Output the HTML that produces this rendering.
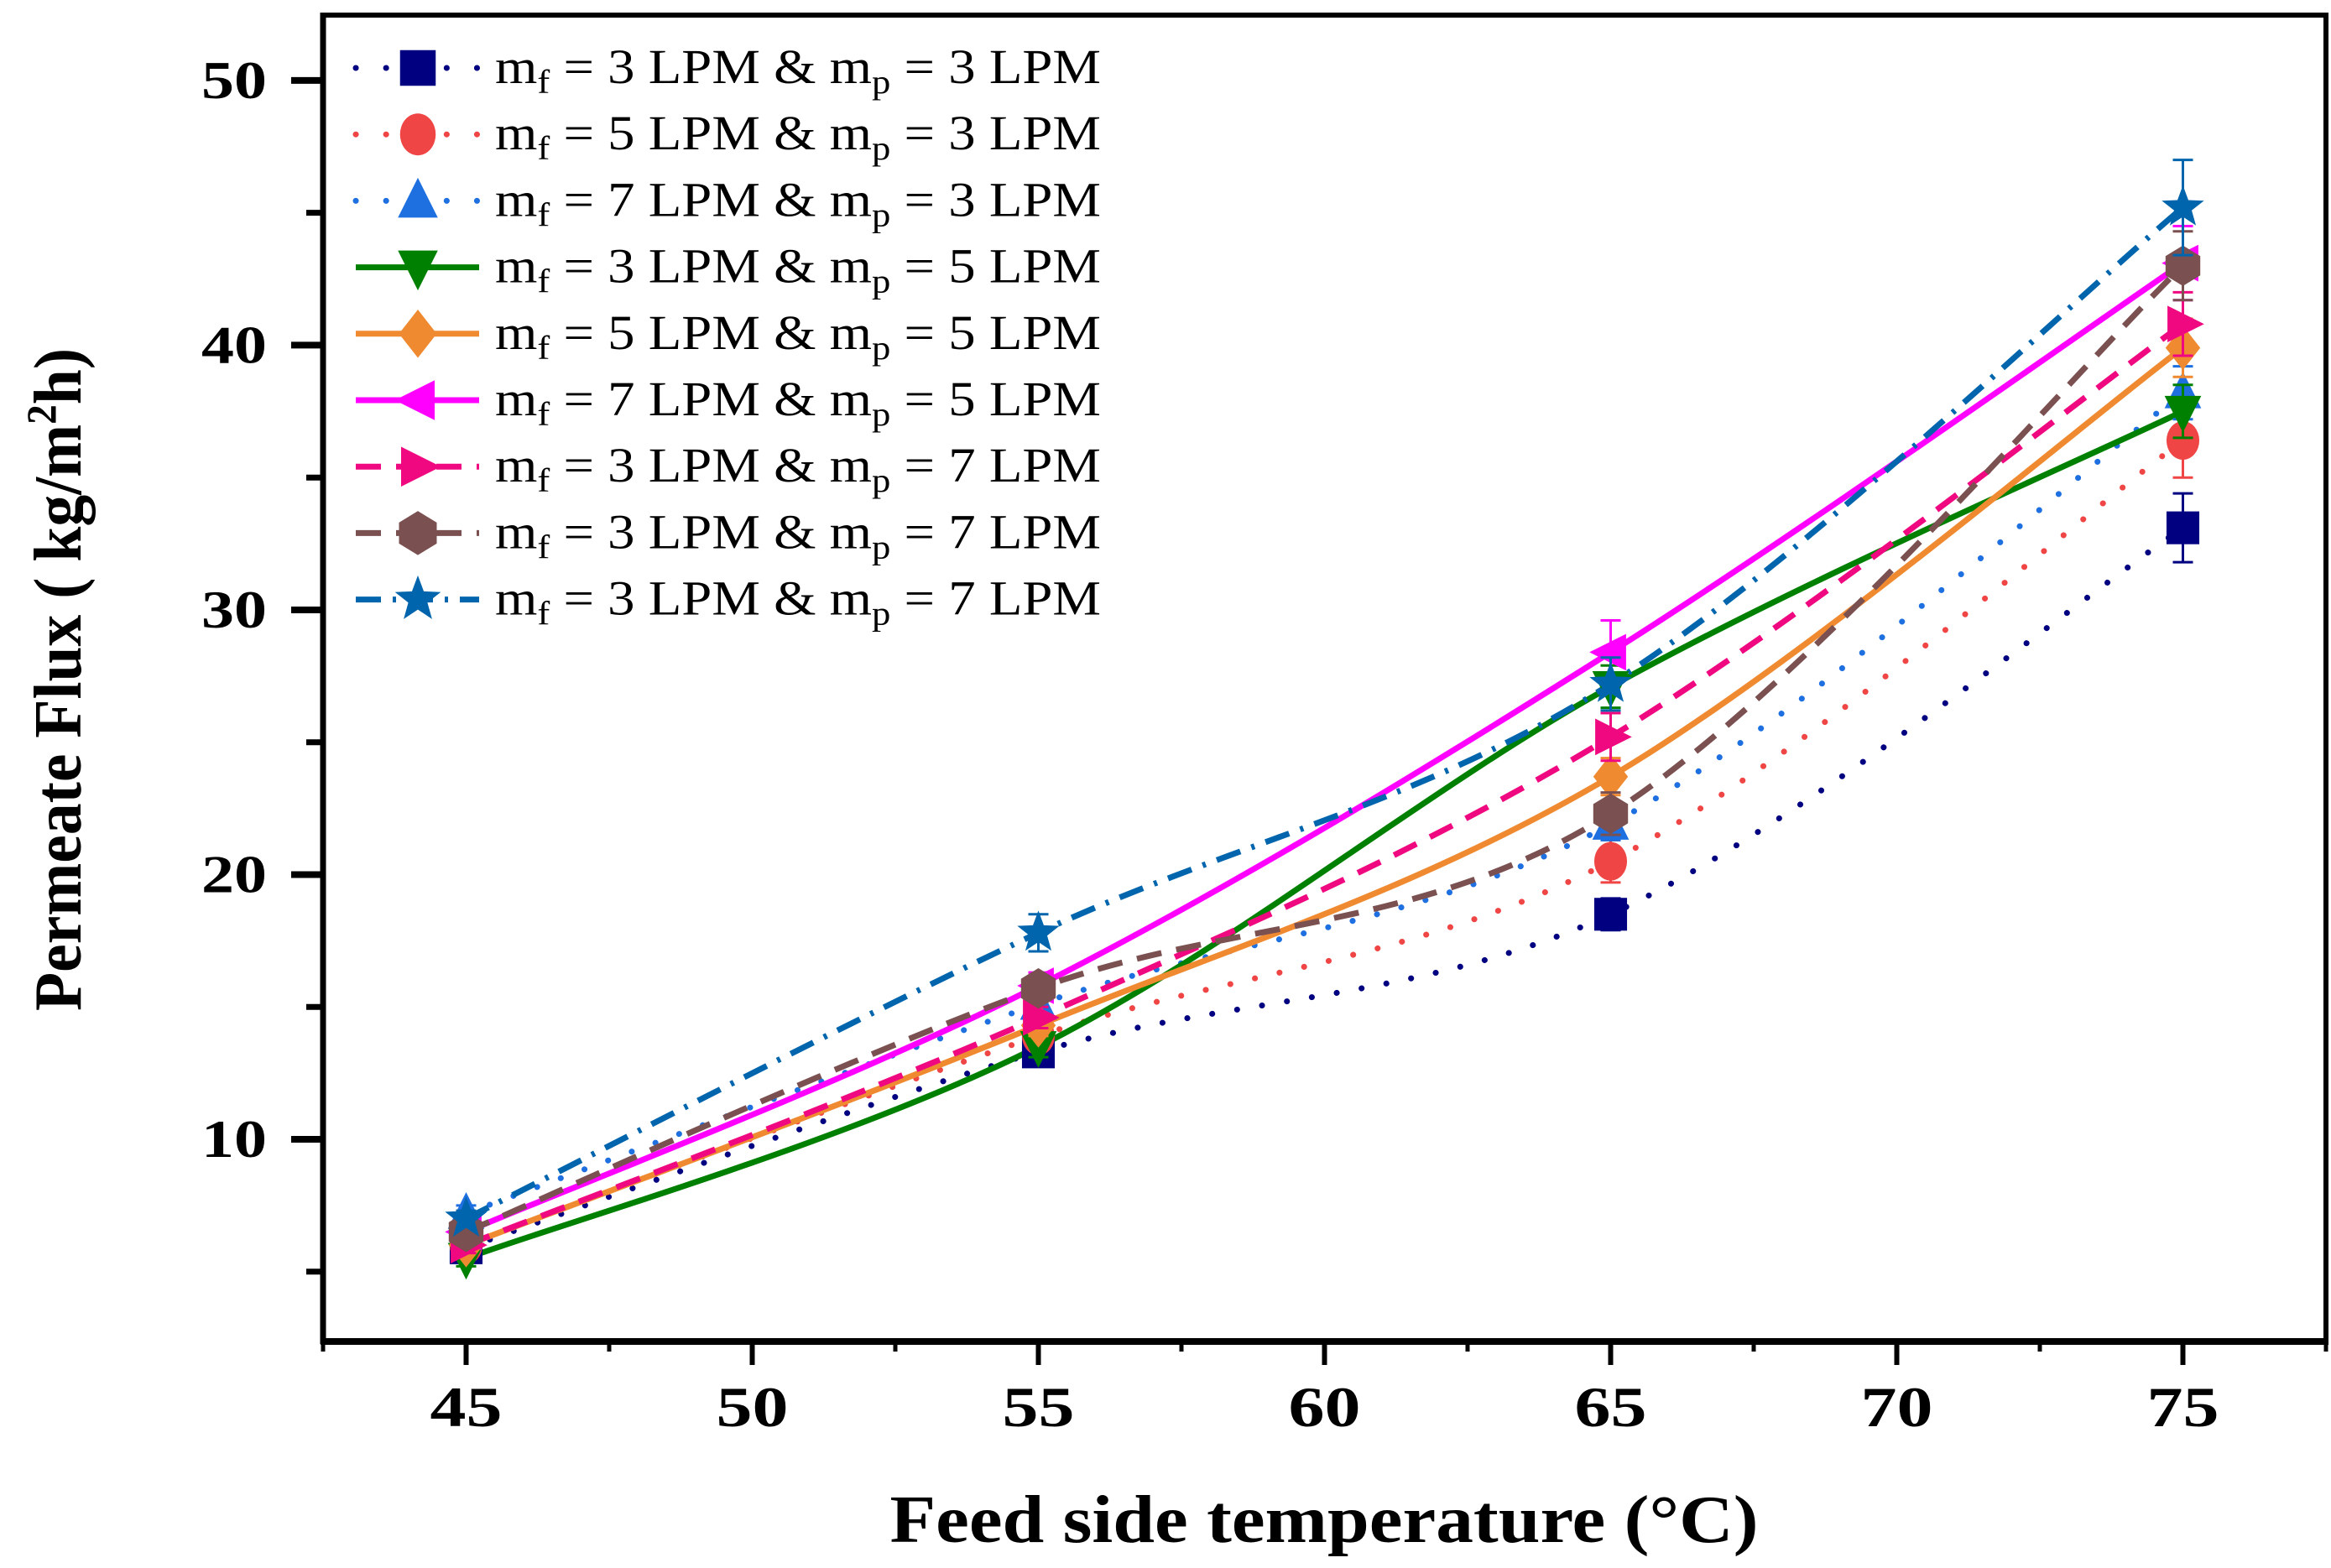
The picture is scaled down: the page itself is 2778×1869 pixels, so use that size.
<!DOCTYPE html>
<html><head><meta charset="utf-8"><style>
html,body{margin:0;padding:0;background:#fff;}
svg{display:block;font-family:"Liberation Serif","Times New Roman",serif;}
</style></head><body>
<svg id="chart" width="2778" height="1869" viewBox="0 0 2778 1869" xmlns="http://www.w3.org/2000/svg">
<rect width="2778" height="1869" fill="#fff"/>
<g id="series"></g>
<g id="axes"></g>
<g id="legend"></g>
<text x="1578" y="1838" text-anchor="middle" style="font-family:'Liberation Serif',serif" font-weight="bold" font-size="80" textLength="1035" lengthAdjust="spacingAndGlyphs">Feed side temperature (°C)</text>
<text transform="translate(96,810) rotate(-90)" text-anchor="middle" style="font-family:'Liberation Serif',serif" font-weight="bold" font-size="80" textLength="790" lengthAdjust="spacingAndGlyphs">Permeate Flux ( kg/m<tspan font-size="50" dy="-30">2</tspan><tspan dy="30">h)</tspan></text>
</svg>
<script>
const temps = [45, 55, 65, 75];
const s1 = [5.9, 13.3, 18.5, 33.1];
const s2 = [6.0, 13.9, 20.5, 36.4];
const s3 = [7.2, 15.1, 21.9, 38.2];
const s4 = [5.5, 13.5, 27.1, 37.5];
const s5 = [6.0, 14.3, 23.7, 39.9];
const s6 = [6.5, 15.8, 28.4, 43.1];
const s7 = [6.0, 14.6, 25.2, 40.8];
const s8 = [6.5, 15.7, 22.3, 43.0];
const s9 = [7.0, 17.8, 27.2, 45.2];
const e1 = [0.3, 0.4, 0.6, 1.3];
const e2 = [0.3, 0.4, 0.8, 1.4];
const e3 = [0.3, 0.5, 0.6, 1.0];
const e4 = [0.3, 0.4, 0.8, 1.0];
const e5 = [0.3, 0.4, 0.7, 1.1];
const e6 = [0.3, 0.5, 1.2, 1.4];
const e7 = [0.3, 0.4, 0.9, 1.2];
const e8 = [0.3, 0.5, 0.8, 1.3];
const e9 = [0.3, 0.7, 1.0, 1.8];
const xTicks = [45, 50, 55, 60, 65, 70, 75];
const xMinor = [42.5, 47.5, 52.5, 57.5, 62.5, 67.5, 72.5, 77.5];
const yTicks = [10, 20, 30, 40, 50];
const yMinor = [5, 15, 25, 35, 45];
const legendLabels = [["3","3"],["5","3"],["7","3"],["3","5"],["5","5"],["7","5"],["3","7"],["3","7"],["3","7"]];

const NS = "http://www.w3.org/2000/svg";
const FONT = "'Liberation Serif', serif";
const X0 = 385, X1 = 2772, Y0 = 1599, Y1 = 18;
const xmin = 42.5, xmax = 77.5, ymin = 2.36, ymax = 52.47;
function xs(v){ return X0 + (v - xmin) / (xmax - xmin) * (X1 - X0); }
function ys(v){ return Y0 - (v - ymin) / (ymax - ymin) * (Y0 - Y1); }
function mk(tag, attrs, parent){
  const e = document.createElementNS(NS, tag);
  for (const k in attrs) e.setAttribute(k, attrs[k]);
  parent.appendChild(e); return e;
}
const gS = document.getElementById('series');
const gA = document.getElementById('axes');
const gL = document.getElementById('legend');

const styles = [
  {c:"#000080", dash:"0.1 30", w:7, cap:"round", m:"square", name:"series-3-3"},
  {c:"#F04545", dash:"0.1 30", w:7, cap:"round", m:"circle", name:"series-5-3"},
  {c:"#1E6FE0", dash:"0.1 30", w:7, cap:"round", m:"triangle-up", name:"series-7-3"},
  {c:"#008000", dash:"", w:7, cap:"butt", m:"triangle-down", name:"series-3-5"},
  {c:"#F08A30", dash:"", w:7, cap:"butt", m:"diamond", name:"series-5-5"},
  {c:"#FF00FF", dash:"", w:7, cap:"butt", m:"triangle-left", name:"series-7-5"},
  {c:"#F00880", dash:"30 18", w:7, cap:"butt", m:"triangle-right", name:"series-3-7a"},
  {c:"#7A5050", dash:"30 18", w:7, cap:"butt", m:"hexagon", name:"series-3-7b"},
  {c:"#0065AD", dash:"30 14 4 14", w:7, cap:"butt", m:"star", name:"series-3-7c"}
];
const data = [s1,s2,s3,s4,s5,s6,s7,s8,s9];
const errs = [e1,e2,e3,e4,e5,e6,e7,e8,e9];

function splinePath(pts){
  let d = "M" + pts[0][0] + "," + pts[0][1];
  for (let i = 0; i < pts.length - 1; i++){
    const p0 = pts[Math.max(0,i-1)], p1 = pts[i], p2 = pts[i+1], p3 = pts[Math.min(pts.length-1,i+2)];
    const c1x = p1[0] + (p2[0]-p0[0])/6, c1y = p1[1] + (p2[1]-p0[1])/6;
    const c2x = p2[0] - (p3[0]-p1[0])/6, c2y = p2[1] - (p3[1]-p1[1])/6;
    d += " C" + c1x + "," + c1y + " " + c2x + "," + c2y + " " + p2[0] + "," + p2[1];
  }
  return d;
}
function marker(type, cx, cy, r, color, parent){
  let e;
  const pts = a => a.map(p => (cx + p[0]*r) + "," + (cy + p[1]*r)).join(" ");
  if (type === "square") e = mk('rect', {x:cx-r*0.85, y:cy-r*0.85, width:r*1.7, height:r*1.7, fill:color}, parent);
  else if (type === "circle") e = mk('ellipse', {cx:cx, cy:cy, rx:r*0.85, ry:r, fill:color}, parent);
  else if (type === "triangle-up") e = mk('polygon', {points:pts([[0,-1.1],[0.95,0.8],[-0.95,0.8]]), fill:color}, parent);
  else if (type === "triangle-down") e = mk('polygon', {points:pts([[0,1.1],[0.95,-0.8],[-0.95,-0.8]]), fill:color}, parent);
  else if (type === "triangle-left") e = mk('polygon', {points:pts([[-1.1,0],[0.8,-0.95],[0.8,0.95]]), fill:color}, parent);
  else if (type === "triangle-right") e = mk('polygon', {points:pts([[1.1,0],[-0.8,-0.95],[-0.8,0.95]]), fill:color}, parent);
  else if (type === "diamond") e = mk('polygon', {points:pts([[0,-1.15],[0.9,0],[0,1.15],[-0.9,0]]), fill:color}, parent);
  else if (type === "hexagon") e = mk('polygon', {points:pts([[0,-1.05],[0.9,-0.5],[0.9,0.5],[0,1.05],[-0.9,0.5],[-0.9,-0.5]]), fill:color}, parent);
  else if (type === "star"){
    const a = [];
    for (let k = 0; k < 10; k++){
      const ang = -Math.PI/2 + k*Math.PI/5, rr = (k%2===0) ? 1.15 : 0.48;
      a.push([Math.cos(ang)*rr, Math.sin(ang)*rr]);
    }
    e = mk('polygon', {points:pts(a), fill:color}, parent);
  }
  return e;
}

data.forEach((vals, si) => {
  const st = styles[si];
  const pts = temps.map((t,i) => [xs(t), ys(vals[i])]);
  const p = mk('path', {d:splinePath(pts), fill:"none", stroke:st.c, "stroke-width":st.w, "stroke-linecap":st.cap}, gS);
  if (st.dash) p.setAttribute('stroke-dasharray', st.dash);
  
  
});
data.forEach((vals, si) => {
  const st = styles[si];
  temps.forEach((t,i) => {
    const x = xs(t), yT = ys(vals[i] + errs[si][i]), yB = ys(vals[i] - errs[si][i]);
    const eb = mk('path', {d:"M"+x+","+yT+"V"+yB+"M"+(x-12)+","+yT+"H"+(x+12)+"M"+(x-12)+","+yB+"H"+(x+12), stroke:st.c, "stroke-width":3, fill:"none"}, gS);
    
    
    const m = marker(st.m, x, ys(vals[i]), 23, st.c, gS);
    
    
  });
});

const fr = mk('rect', {x:X0, y:Y1, width:X1-X0, height:Y0-Y1, fill:"none", stroke:"#000", "stroke-width":6}, gA);


const xl = mk('line', {x1:X0-3, y1:Y0, x2:X1+3, y2:Y0, stroke:"#000", "stroke-width":8}, gA);


const yl = mk('line', {x1:X0, y1:Y1-3, x2:X0, y2:Y0+3, stroke:"#000", "stroke-width":7}, gA);



xTicks.forEach(v => {
  const t = mk('line', {x1:xs(v), y1:Y0, x2:xs(v), y2:1627, stroke:"#000", "stroke-width":6}, gA);
  
  
  const l = mk('text', {x:xs(v), y:1700, "text-anchor":"middle", "font-family":FONT, "font-weight":"bold", "font-size":68, textLength:86, lengthAdjust:"spacingAndGlyphs"}, gA);
  l.textContent = v;
  
  
});
xMinor.forEach(v => {
  const t = mk('line', {x1:xs(v), y1:Y0, x2:xs(v), y2:1611, stroke:"#000", "stroke-width":5}, gA);
  
  
});
yTicks.forEach(v => {
  const t = mk('line', {x1:X0-38, y1:ys(v), x2:X0, y2:ys(v), stroke:"#000", "stroke-width":8}, gA);
  
  
  const l = mk('text', {x:318, y:ys(v)+21, "text-anchor":"end", "font-family":FONT, "font-weight":"bold", "font-size":64, textLength:78, lengthAdjust:"spacingAndGlyphs"}, gA);
  l.textContent = v;
  
  
});
yMinor.forEach(v => {
  const t = mk('line', {x1:X0-20, y1:ys(v), x2:X0, y2:ys(v), stroke:"#000", "stroke-width":7}, gA);
  
  
});

styles.forEach((st, i) => {
  const cy = 81 + i*79.2;
  const g = mk('g', {}, gL);
  
  
  const ln = mk('line', {x1:424, y1:cy, x2:571, y2:cy, stroke:st.c, "stroke-width":st.w, "stroke-linecap":st.cap}, g);
  if (st.dash) ln.setAttribute('stroke-dasharray', st.dash === "0.1 30" ? "0.1 36" : st.dash);
  
  
  const m = marker(st.m, 498, cy, 25, st.c, g);
  
  
  const tx = mk('text', {x:590, y:cy+18, "font-family":FONT, "font-size":58}, g);
  
  
  const lab = legendLabels[i];
  tx.innerHTML = 'm<tspan font-size="40" dy="12">f</tspan><tspan dy="-12"> = ' + lab[0] + ' LPM &amp; m</tspan><tspan font-size="40" dy="12">p</tspan><tspan dy="-12"> = ' + lab[1] + ' LPM</tspan>';
  tx.setAttribute('textLength', 722);
  tx.setAttribute('lengthAdjust', 'spacingAndGlyphs');
});
</script>
</body></html>
